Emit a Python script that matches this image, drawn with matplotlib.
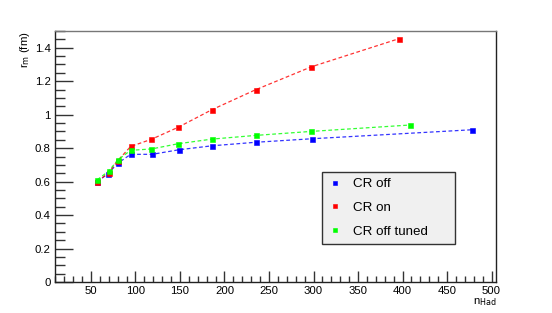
import matplotlib
matplotlib.use('Agg')
import matplotlib.pyplot as plt
from matplotlib.ticker import MultipleLocator, FuncFormatter

plt.rcParams['font.family'] = ['Liberation Sans', 'DejaVu Sans']

# Data
n_had_off = [57, 69, 80, 94.6, 118.8, 148.5, 186, 235, 298, 478.6]
r_off = [0.598, 0.647, 0.709, 0.763, 0.763, 0.790, 0.814, 0.835, 0.856, 0.910]

n_had_on = [57, 70, 80, 94.6, 118, 147.7, 186, 235, 297.6, 396]
r_on = [0.600, 0.653, 0.725, 0.810, 0.853, 0.924, 1.030, 1.149, 1.286, 1.454]

n_had_tuned = [57, 70, 80, 94.6, 118, 147.7, 186, 235, 297.6, 407.9]
r_tuned = [0.611, 0.663, 0.729, 0.787, 0.795, 0.826, 0.854, 0.876, 0.900, 0.938]

series = [
    ('CR off', n_had_off, r_off, '#0000ff'),
    ('CR on', n_had_on, r_on, '#ff0000'),
    ('CR off tuned', n_had_tuned, r_tuned, '#00ff00'),
]

fig = plt.figure(figsize=(5.52, 3.13), dpi=100)
ax = fig.add_axes([55 / 552, 1 - 282 / 313, (496 - 55) / 552, (282 - 31) / 313])

for label, x, y, col in series:
    ax.plot(x, y, color=col, ls=(0, (3, 2)), lw=0.9, alpha=0.8)
    ax.plot(x, y, ls='none', marker='s', ms=3.6, mew=0.4, color=col, mec=col, label=label)

ax.set_xlim(9.6, 505)
ax.set_ylim(0, 1.5)
ax.xaxis.set_major_locator(MultipleLocator(50))
ax.xaxis.set_minor_locator(MultipleLocator(10))
ax.yaxis.set_major_locator(MultipleLocator(0.2))
ax.yaxis.set_minor_locator(MultipleLocator(0.05))
ax.yaxis.set_major_formatter(FuncFormatter(lambda v, p: '%g' % round(v, 2)))
ax.xaxis.set_major_formatter(FuncFormatter(lambda v, p: '%g' % v))

ax.tick_params(which='both', direction='in', top=False, right=False,
               labelsize=8.2, color='#333333', width=1)
ax.tick_params(which='major', length=8, pad=3)
ax.tick_params(which='minor', length=4)
ax.tick_params(axis='y', which='major', length=13)
ax.tick_params(axis='y', which='minor', length=7)

for s in ax.spines.values():
    s.set_color('#222222')
    s.set_linewidth(1)
ax.spines['top'].set_color('#777777')

fig.text(25 / 552, 1 - 31 / 313, r'r$_{\mathrm{m}}$ (fm)', rotation=90,
         ha='center', va='top', fontsize=8.2)
fig.text(497 / 552, 1 - 302 / 313, r'n$_{\mathrm{Had}}$', ha='right', va='center',
         fontsize=8.2)

# legend box: 322..455 px wide, 172..244 px tall
lx0, lx1, ly0, ly1 = 322, 455, 172, 244
leg = ax.legend(loc='upper left',
                bbox_to_anchor=((lx0 - 55) / 441, 1 - (ly1 - 31) / 251,
                                (lx1 - lx0) / 441, (ly1 - ly0) / 251),
                mode='expand', fontsize=9.6, frameon=True, fancybox=False,
                borderpad=0.45, labelspacing=0.85, handlelength=1.0,
                handletextpad=0.9, markerscale=0.75, borderaxespad=0)
leg.get_frame().set_facecolor('#f0f0f0')
leg.get_frame().set_edgecolor('#333333')
leg.get_frame().set_linewidth(1)
leg.get_frame().set_alpha(1)

fig.savefig('out.png', dpi=100)
